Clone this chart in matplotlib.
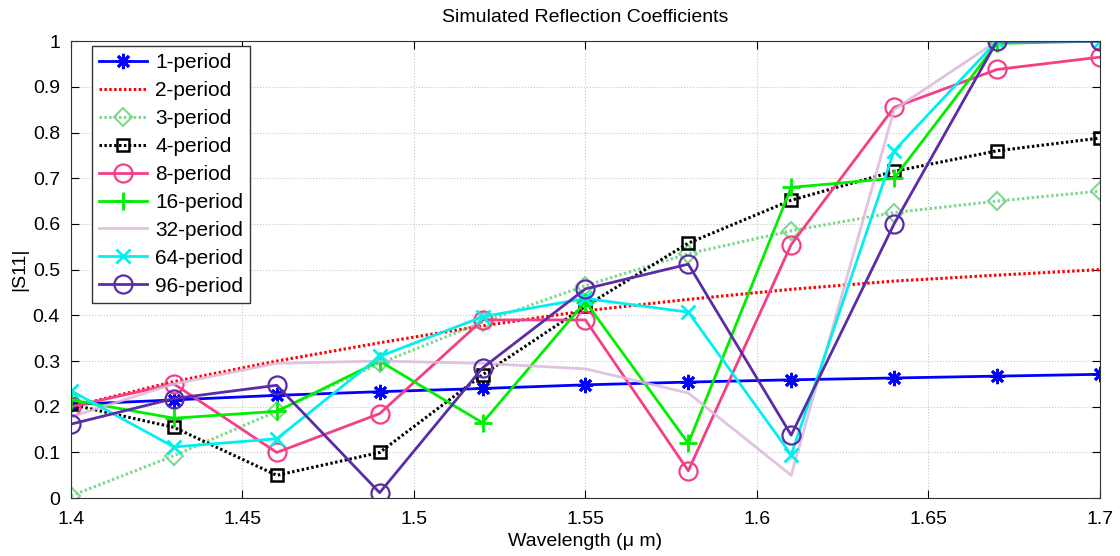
import matplotlib
matplotlib.use("Agg")
import matplotlib.pyplot as plt
import numpy as np

plt.rcParams['font.family'] = ['Liberation Sans', 'DejaVu Sans']

wavelength = [1.40, 1.43, 1.46, 1.49, 1.52, 1.55, 1.58, 1.61, 1.64, 1.67, 1.70]

p1 = [0.205, 0.215, 0.225, 0.233, 0.240, 0.248, 0.254, 0.259, 0.263, 0.267, 0.271]
p2 = [0.200, 0.255, 0.300, 0.340, 0.377, 0.410, 0.435, 0.457, 0.475, 0.488, 0.500]
p3 = [0.005, 0.093, 0.190, 0.295, 0.385, 0.465, 0.535, 0.585, 0.625, 0.650, 0.672]
p4 = [0.205, 0.155, 0.050, 0.100, 0.270, 0.420, 0.558, 0.652, 0.715, 0.760, 0.788]
p8 = [0.200, 0.250, 0.100, 0.185, 0.390, 0.390, 0.060, 0.555, 0.855, 0.938, 0.965]
p16 = [0.215, 0.175, 0.190, 0.300, 0.165, 0.430, 0.120, 0.680, 0.700, 0.995, 1.000]
p32 = [0.178, 0.250, 0.295, 0.300, 0.295, 0.283, 0.230, 0.050, 0.850, 1.000, 1.000]
p64 = [0.235, 0.112, 0.130, 0.310, 0.397, 0.437, 0.407, 0.095, 0.760, 1.000, 1.000]
p96 = [0.162, 0.218, 0.247, 0.012, 0.285, 0.458, 0.512, 0.138, 0.600, 1.000, 1.000]

fig = plt.figure(figsize=(11.2, 5.56), dpi=100)
ax = fig.add_axes([0.0634, 0.104, 0.9186, 0.822])

dots = (0, (0.8, 0.8))
ax.plot(wavelength, p1, '-', color='#0000ff', lw=2, marker=(8, 2, 0), ms=11, mew=2, label='1-period')
ax.plot(wavelength, p2, linestyle=dots, color='#ff0000', lw=2.2, label='2-period')
ax.plot(wavelength, p3, linestyle=dots, color='#7fd88f', lw=2.2, marker='D', ms=9, mfc='none', mew=1.5, label='3-period')
ax.plot(wavelength, p4, linestyle=dots, color='#000000', lw=2.2, marker='s', ms=9, mfc='none', mew=1.8, label='4-period')
ax.plot(wavelength, p8, '-', color='#f43f86', lw=2, marker='o', ms=13, mfc='none', mew=1.6, label='8-period')
ax.plot(wavelength, p16, '-', color='#00ee00', lw=2, marker='+', ms=13, mew=2, label='16-period')
ax.plot(wavelength, p32, '-', color='#dcb8dc', lw=2, alpha=0.85, label='32-period')
ax.plot(wavelength, p64, '-', color='#00f0f0', lw=2, marker='x', ms=10, mew=2, label='64-period')
ax.plot(wavelength, p96, '-', color='#5a2ca8', lw=2, marker='o', ms=13, mfc='none', mew=1.6, label='96-period')

ax.set_xlim(1.4, 1.7)
ax.set_ylim(0, 1)
ax.set_xticks(np.arange(1.4, 1.7001, 0.05))
ax.set_xticklabels(['1.4', '1.45', '1.5', '1.55', '1.6', '1.65', '1.7'])
ax.set_yticks(np.arange(0, 1.0001, 0.1))
ax.set_yticklabels(['0', '0.1', '0.2', '0.3', '0.4', '0.5', '0.6', '0.7', '0.8', '0.9', '1'])
ax.tick_params(direction='in', labelsize=14, length=6, top=True, right=True)
ax.tick_params(axis='x', pad=9)
ax.tick_params(axis='y', pad=8)
ax.grid(True, linestyle=':', color='#c8c8c8', lw=0.8)
for s in ax.spines.values():
    s.set_color('#333333')

ax.set_title('Simulated Reflection Coefficients', fontsize=14, pad=14)
ax.set_xlabel('Wavelength (μ m)', fontsize=14, labelpad=4)
ax.set_ylabel('|S11|', fontsize=14, labelpad=3)

leg = ax.legend(loc='upper left', fontsize=15, fancybox=False, edgecolor='#333333',
                handlelength=2.3, handletextpad=0.4, borderaxespad=0.0, borderpad=0.35,
                labelspacing=0.43, framealpha=1, bbox_to_anchor=(0.02, 0.99))
leg.get_frame().set_linewidth(1)

fig.savefig('out.png', dpi=100)
